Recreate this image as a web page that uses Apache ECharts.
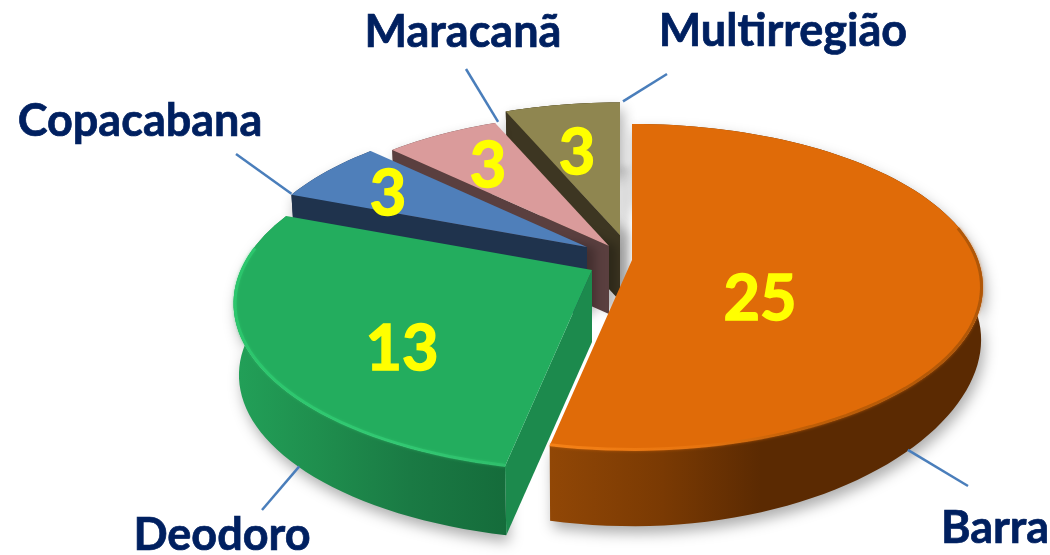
<!DOCTYPE html>
<html><head><meta charset="utf-8">
<style>html,body{margin:0;padding:0;background:#fff}#c{width:1050px;height:555px}</style>
<script src="https://cdn.jsdelivr.net/npm/echarts@6/dist/echarts.min.js"></script>
</head><body><div id="c"></div>
<script>
const categories = ["Barra","Deodoro","Copacabana","Maracanã","Multirregião"];
const seriesValues = [25,13,3,3,3];
const topColors = ["#e06b08","#23ad5e","#4f7fba","#da9b9b","#8f8650"];
const wallColors = ["#5b2a02","#1c8a4d","#1f334d","#5a3f3f","#3d3622"];
// layout (apex position, scale, perspective, depth, draw order, text anchors, leader)
const sliceLayout = [
  {cx:632,cy:260,s:1,    k:.166,d0:52,d1:25,sb:.995,order:5,val:[760,300],name:[995,528],leaderEnd:[968,486],t:0.705,bottom:true},
  {cx:592,cy:270,s:1.015,k:.2,  d0:72,d1:0, sb:.985,order:4,val:[402,350],name:[222,535],leaderEnd:[262,510],t:0.356,bottom:true},
  {cx:587,cy:247,s:0.97, k:.166,d0:69,d1:0, sb:.985,order:3,val:[388,195],name:[140,121],leaderEnd:[236,154],t:0,bottom:false},
  {cx:609,cy:246,s:0.972,k:.166,d0:68,d1:0, sb:.985,order:2,val:[488,167],name:[463,32],leaderEnd:[466,69],t:1,bottom:false},
  {cx:620,cy:235,s:0.975,k:.166,d0:66,d1:0, sb:.985,order:1,val:[577,154],name:[783,31],leaderEnd:[667,74],t:1,bottom:false}
];
const RX=346, RY=158.6;
const total = seriesValues.reduce((a,b)=>a+b,0);
const LG = echarts.graphic.LinearGradient;
const rimFill = [
  new LG(550,0,1000,0,[{offset:0,color:"#914706"},{offset:.25,color:"#7a3a03"},{offset:.47,color:"#5b2a02"},{offset:1,color:"#5b2a02"}],true),
  new LG(235,0,505,0,[{offset:0,color:"#22a058"},{offset:.3,color:"#1f8f4e"},{offset:.65,color:"#1a7a44"},{offset:1,color:"#156c3b"}],true)
];
const bevel = [
  new LG(550,0,985,0,[{offset:0,color:"#f98519"},{offset:.35,color:"#e8750f"},{offset:.6,color:"#b85b06"},{offset:1,color:"#a85307"}],true),
  new LG(235,0,505,0,[{offset:0,color:"#2cc96e"},{offset:.6,color:"#33cc75"},{offset:1,color:"#2fc06c"}],true)
];
function proj(l,deg,bottom,inset){
  const a=deg*Math.PI/180, c=Math.cos(a), w=1+l.k*c, m=l.s*(bottom?l.sb:1)*(inset||1);
  const dz=bottom?l.d0+l.d1*c*c:0;
  return [l.cx+RX*m*Math.sin(a)/w, l.cy+dz-RY*m*c/w];
}
function arc(l,a,b,bottom,inset){
  const pts=[], n=Math.max(2,Math.ceil(Math.abs(b-a)/2));
  for(let i=0;i<=n;i++) pts.push(proj(l,a+(b-a)*i/n,bottom,inset));
  return pts;
}
function renderItem(params,api){
  const i=params.dataIndex, l=sliceLayout[i], v=api.value(0);
  let before=0; for(let j=0;j<i;j++) before+=seriesValues[j];
  const a0=before/total*360, a1=(before+v)/total*360;
  const base=l.order*10, kids=[];
  const apexTop=[l.cx,l.cy], apexBot=[l.cx,l.cy+l.d0];
  const topPts=[apexTop].concat(arc(l,a0,a1,false));
  // soft cast shadow of the rearmost slice
  if(i===4){
    kids.push({type:'polygon',z2:base-1,shape:{points:topPts},
      style:{fill:topColors[i],shadowColor:'rgba(0,0,0,.13)',shadowBlur:6,shadowOffsetX:10,shadowOffsetY:64}});
  }
  // outer wall
  kids.push({type:'polygon',z2:base,shape:{points:arc(l,a0,a1,false).concat(arc(l,a1,a0,true))},
    style:{fill:i<2?rimFill[i]:wallColors[i],shadowColor:'rgba(0,0,0,.32)',shadowBlur:14,shadowOffsetX:3,shadowOffsetY:7}});
  // cut face
  if(a0>=180){
    kids.push({type:'polygon',z2:base+1,shape:{points:[proj(l,a0,false),apexTop,apexBot,proj(l,a0,true)]},
      style:{fill:wallColors[i],shadowColor:i>1?'rgba(0,0,0,.25)':'transparent',shadowBlur:i>1?10:0,shadowOffsetX:i>1?8:0}});
  }
  // top face
  kids.push({type:'polygon',z2:base+2,shape:{points:topPts},style:{fill:topColors[i]}});
  // bevel highlight along the front rim
  if(i<2){
    const from=i===0?191.5:a0, to=i===0?78:278;
    kids.push({type:'polyline',z2:base+3,shape:{points:arc(l,from,to,false,.996)},
      style:{fill:null,stroke:bevel[i],lineWidth:3,opacity:.85,shadowBlur:3,shadowColor:i===0?'rgba(224,107,8,.7)':'rgba(50,200,110,.6)'}});
  }
  // leader line
  const start=proj(l,a0+(a1-a0)*l.t,l.bottom);
  kids.push({type:'line',z2:base+4,shape:{x1:start[0]+(l.bottom?0:(l.t===1?3:0)),y1:start[1]-1,x2:l.leaderEnd[0],y2:l.leaderEnd[1]},
    style:{stroke:'#4a7ebb',lineWidth:2.5}});
  // texts
  kids.push({type:'text',z2:1000,style:{x:l.val[0],y:l.val[1],text:String(v),fill:'#ffff00',stroke:'#ffff00',lineWidth:1.5,
    font:'700 63px Lato',align:'center',verticalAlign:'middle'}});
  kids.push({type:'text',z2:1000,style:{x:l.name[0],y:l.name[1],text:categories[i],fill:'#002060',stroke:'#002060',lineWidth:.7,
    font:'700 45px Lato',align:'center',verticalAlign:'middle'}});
  return {type:'group',children:kids};
}
const chart=echarts.init(document.getElementById('c'),null,{renderer:'canvas'});
chart.setOption({
  animation:false,backgroundColor:'#ffffff',
  series:[{type:'custom',coordinateSystem:'none',silent:true,clip:false,renderItem,
    data:seriesValues.map((v,i)=>({value:[v],name:categories[i]}))}]
});
</script></body></html>
